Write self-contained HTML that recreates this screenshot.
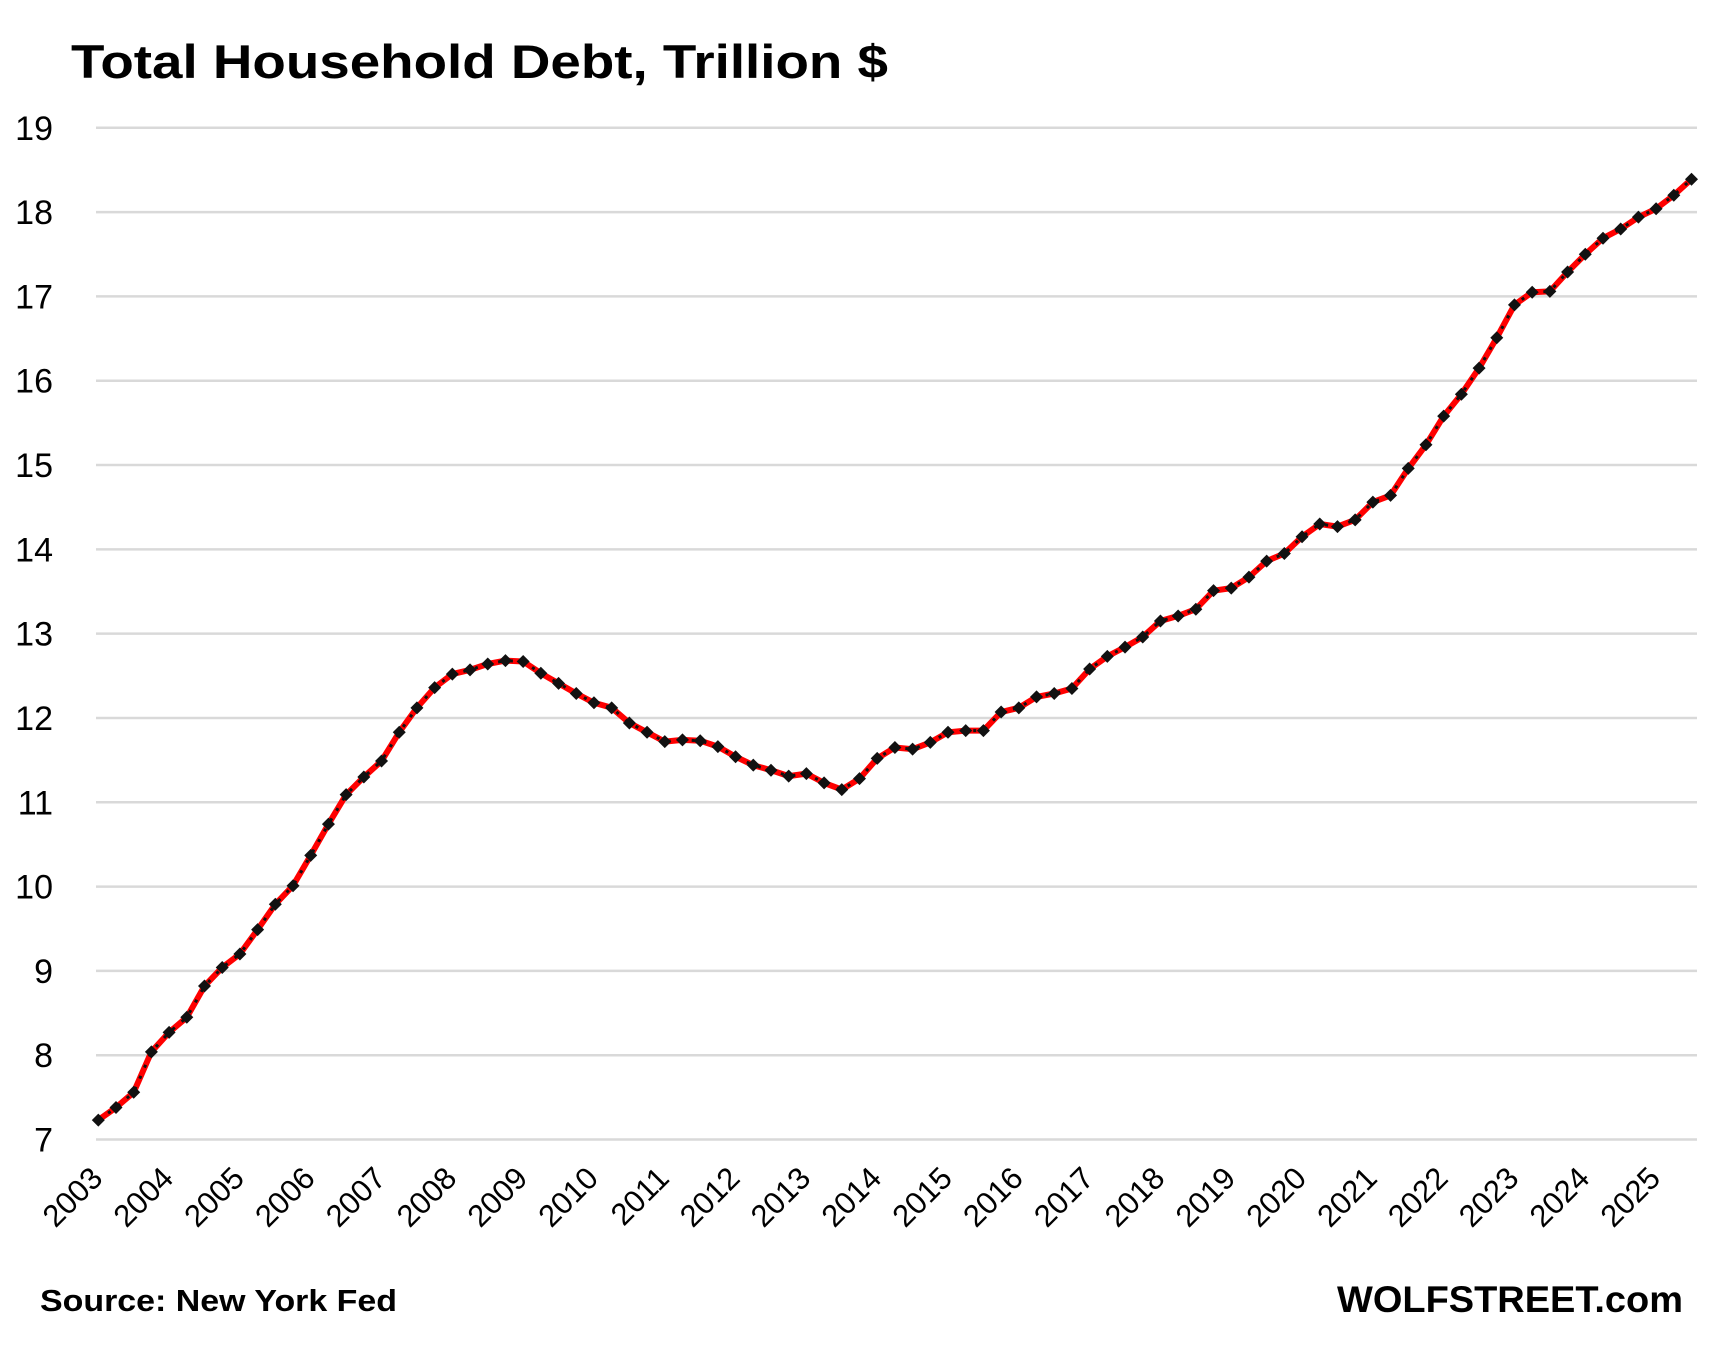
<!DOCTYPE html>
<html><head><meta charset="utf-8"><style>
html,body{margin:0;padding:0;background:#fff;}
svg{display:block;font-family:"Liberation Sans",sans-serif;}
</style></head><body>
<svg id="chart" width="1710" height="1349" viewBox="0 0 1710 1349">
<text x="71" y="78" font-size="47" font-weight="bold" fill="#000" textLength="817" lengthAdjust="spacingAndGlyphs">Total Household Debt, Trillion $</text>
<g id="grid"></g><g id="ylabels"></g><g id="xlabels"></g><g id="series"></g>
<text x="40" y="1311" font-size="31" font-weight="bold" fill="#000" textLength="357" lengthAdjust="spacingAndGlyphs">Source: New York Fed</text>
<text x="1683" y="1312" font-size="37" font-weight="bold" fill="#000" text-anchor="end" textLength="346" lengthAdjust="spacingAndGlyphs">WOLFSTREET.com</text>
</svg>
<script>
const yearLabels=["2003","2004","2005","2006","2007","2008","2009","2010","2011","2012","2013","2014","2015","2016","2017","2018","2019","2020","2021","2022","2023","2024","2025"];
const yTicks=[7,8,9,10,11,12,13,14,15,16,17,18,19];
const debtValues=[7.23,7.38,7.56,8.04,8.27,8.45,8.82,9.04,9.20,9.49,9.79,10.01,10.37,10.74,11.09,11.30,11.49,11.83,12.12,12.36,12.52,12.57,12.64,12.68,12.67,12.53,12.41,12.29,12.18,12.12,11.94,11.83,11.72,11.74,11.73,11.66,11.54,11.44,11.38,11.31,11.34,11.23,11.15,11.28,11.52,11.65,11.63,11.71,11.83,11.85,11.85,12.07,12.12,12.25,12.29,12.35,12.58,12.73,12.84,12.96,13.15,13.21,13.29,13.51,13.54,13.67,13.86,13.95,14.15,14.30,14.27,14.35,14.56,14.64,14.96,15.24,15.58,15.84,16.15,16.51,16.90,17.05,17.06,17.29,17.50,17.69,17.80,17.94,18.04,18.20,18.39];
const NS="http://www.w3.org/2000/svg";
const X0=98.3,X1=1691.5,Y7=1139.5,Y19=127.8;
const n=debtValues.length;
function xScale(i){return X0+(X1-X0)*i/(n-1);}
function yScale(v){return Y7+(v-7)*(Y19-Y7)/12;}
function mk(tag,attrs,parent){const e=document.createElementNS(NS,tag);for(const k in attrs)e.setAttribute(k,attrs[k]);parent.appendChild(e);return e;}
const grid=document.getElementById('grid'),yl=document.getElementById('ylabels'),xl=document.getElementById('xlabels'),ser=document.getElementById('series');
yTicks.forEach(t=>{
  const l=mk('line',{x1:96,x2:1697,y1:yScale(t),y2:yScale(t),stroke:'#d9d9d9','stroke-width':2.5},grid);
  
  
  const tx=mk('text',{x:53,y:yScale(t)+12,'font-size':34,'text-anchor':'end',fill:'#000'},yl);
  tx.textContent=t;
  
  
});
yearLabels.forEach((y,k)=>{
  const x=xScale(k*4)+6,yy=1180;
  const tx=mk('text',{x:x,y:yy,'font-size':31,'text-anchor':'end',fill:'#000',transform:`rotate(-45 ${x} ${yy})`},xl);
  tx.textContent=y;
  
  
});
const pts=debtValues.map((v,i)=>xScale(i).toFixed(1)+','+yScale(v).toFixed(1)).join(' ');
const pl=mk('polyline',{points:pts,fill:'none',stroke:'#ff0000','stroke-width':6,'stroke-linejoin':'round'},ser);


const pd=mk('polyline',{points:pts,fill:'none',stroke:'#111','stroke-width':3,'stroke-dasharray':'3 9'},ser);


debtValues.forEach((v,i)=>{
  const x=xScale(i),y=yScale(v),s=6.5;
  const d=mk('polygon',{points:`${x},${y-s} ${x+s},${y} ${x},${y+s} ${x-s},${y}`,fill:'#111'},ser);
  
  
});
</script>
</body></html>
